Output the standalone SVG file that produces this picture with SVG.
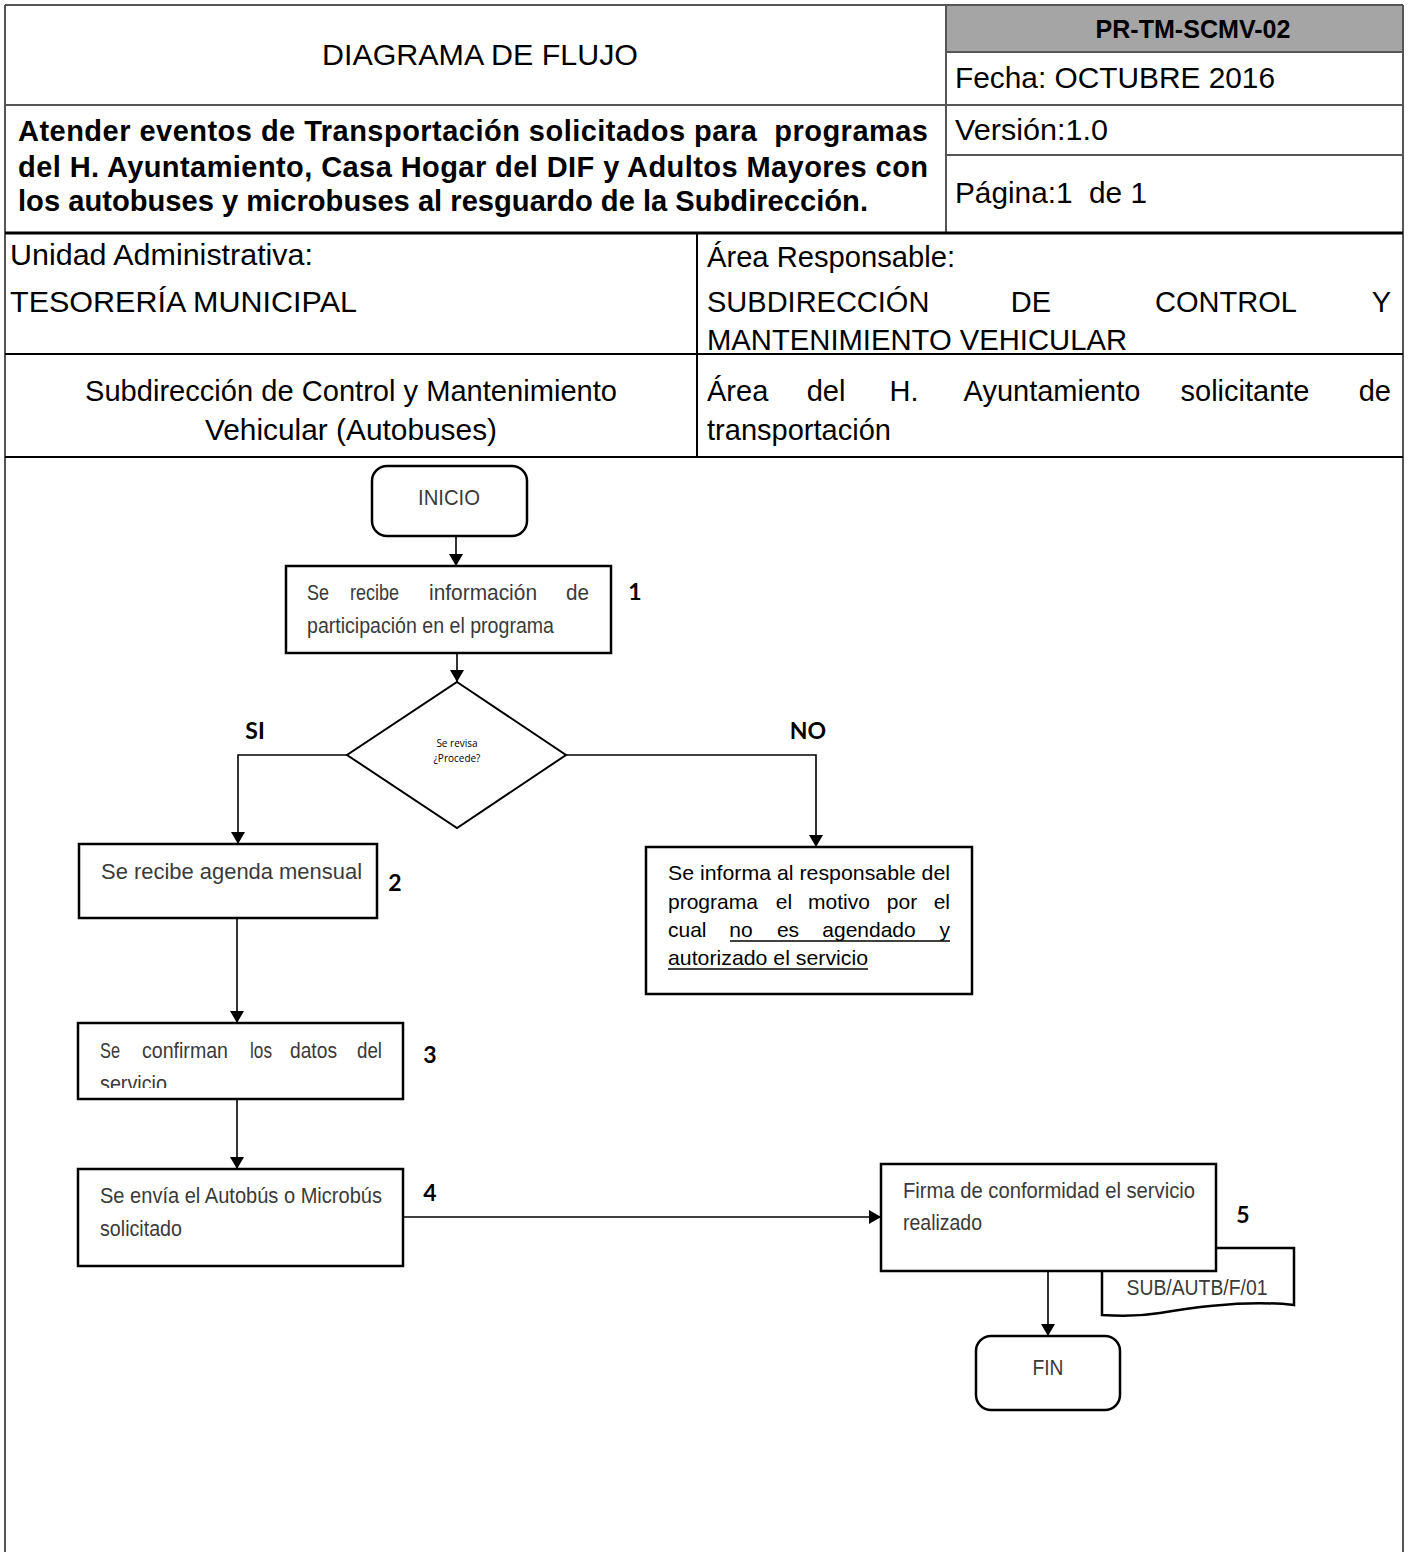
<svg xmlns="http://www.w3.org/2000/svg" width="1408" height="1552" viewBox="0 0 1408 1552">
<style>
.hd{font-family:"Liberation Sans",Arial,sans-serif;font-size:29px;fill:#000}
.hb{font-family:"Liberation Sans",Arial,sans-serif;font-size:29px;font-weight:bold;fill:#000}
.pr{font-family:"Liberation Sans",Arial,sans-serif;font-size:25px;font-weight:bold;fill:#000}
.ft{font-family:"Liberation Sans",Arial,sans-serif;font-size:22px;fill:#3a3a3a}
.nt{font-family:"Liberation Sans",Arial,sans-serif;font-size:21px;fill:#000}
.num{font-family:Lato,"Open Sans",sans-serif;font-size:23px;font-weight:bold;fill:#000}
.sm{font-family:"Open Sans","Liberation Sans",sans-serif;font-size:10px;fill:#000}
.box{fill:#fff;stroke:#000;stroke-width:2.5}
.grid{stroke:#555;stroke-width:2;fill:none}
.thick{stroke:#000;stroke-width:3;fill:none}
.mid{stroke:#000;stroke-width:2;fill:none}
.con{stroke:#000;stroke-width:1.6;fill:none}
</style>
<defs>
<marker id="ah" viewBox="0 0 12 14" refX="12" refY="7" markerWidth="12" markerHeight="14" markerUnits="userSpaceOnUse" orient="auto">
<path d="M0,0 L12,7 L0,14 Z" fill="#000"/>
</marker>
<clipPath id="clip3"><rect x="78" y="1023" width="325" height="65"/></clipPath>
</defs>
<rect width="1408" height="1552" fill="#fff"/>

<g id="header">
<rect x="946" y="5" width="457" height="47" fill="#a5a5a5"/>
<line class="grid" x1="5" y1="5" x2="1403" y2="5"/>
<line class="grid" x1="5" y1="5" x2="5" y2="1552"/>
<line class="grid" x1="1403" y1="5" x2="1403" y2="1552"/>
<line class="grid" x1="946" y1="5" x2="946" y2="233"/>
<line class="grid" x1="946" y1="52" x2="1403" y2="52"/>
<line class="grid" x1="5" y1="105" x2="1403" y2="105"/>
<line class="grid" x1="946" y1="155" x2="1403" y2="155"/>
<line class="thick" x1="5" y1="233" x2="1403" y2="233"/>
<line class="mid" x1="697" y1="233" x2="697" y2="457"/>
<line class="mid" x1="5" y1="354" x2="1403" y2="354"/>
<line class="mid" x1="5" y1="457" x2="1403" y2="457"/>

<text class="hd" x="480" y="65" text-anchor="middle" textLength="316" lengthAdjust="spacingAndGlyphs">DIAGRAMA DE FLUJO</text>
<text class="pr" x="1193" y="38" text-anchor="middle" textLength="195" lengthAdjust="spacingAndGlyphs">PR-TM-SCMV-02</text>
<text class="hd" x="955" y="88" textLength="320" lengthAdjust="spacingAndGlyphs">Fecha: OCTUBRE 2016</text>
<text class="hd" x="955" y="140" textLength="153" lengthAdjust="spacingAndGlyphs">Versión:1.0</text>
<text class="hd" x="955" y="203" textLength="192" lengthAdjust="spacingAndGlyphs" xml:space="preserve">Página:1  de 1</text>

<text class="hb" x="18" y="141" textLength="910" lengthAdjust="spacing" xml:space="preserve">Atender eventos de Transportación solicitados para  programas</text>
<text class="hb" x="18" y="177" textLength="910" lengthAdjust="spacing">del H. Ayuntamiento, Casa Hogar del DIF y Adultos Mayores con</text>
<text class="hb" x="18" y="211" textLength="850" lengthAdjust="spacingAndGlyphs">los autobuses y microbuses al resguardo de la Subdirección.</text>

<text class="hd" x="10" y="265" textLength="303" lengthAdjust="spacingAndGlyphs">Unidad Administrativa:</text>
<text class="hd" x="10" y="312" textLength="347" lengthAdjust="spacingAndGlyphs">TESORERÍA MUNICIPAL</text>
<text class="hd" x="707" y="267" textLength="248" lengthAdjust="spacingAndGlyphs">Área Responsable:</text>
<text class="hd" x="707" y="312">SUBDIRECCIÓN</text>
<text class="hd" x="1031" y="312" text-anchor="middle">DE</text>
<text class="hd" x="1226" y="312" text-anchor="middle">CONTROL</text>
<text class="hd" x="1391" y="312" text-anchor="end">Y</text>
<text class="hd" x="707" y="350" textLength="420" lengthAdjust="spacingAndGlyphs">MANTENIMIENTO VEHICULAR</text>

<text class="hd" x="351" y="401" text-anchor="middle" textLength="532" lengthAdjust="spacingAndGlyphs">Subdirección de Control y Mantenimiento</text>
<text class="hd" x="351" y="440" text-anchor="middle" textLength="292" lengthAdjust="spacingAndGlyphs">Vehicular (Autobuses)</text>
<text class="hd" x="707" y="401">Área</text>
<text class="hd" x="826" y="401" text-anchor="middle">del</text>
<text class="hd" x="904" y="401" text-anchor="middle">H.</text>
<text class="hd" x="1052" y="401" text-anchor="middle">Ayuntamiento</text>
<text class="hd" x="1245" y="401" text-anchor="middle">solicitante</text>
<text class="hd" x="1391" y="401" text-anchor="end">de</text>
<text class="hd" x="707" y="440" textLength="184" lengthAdjust="spacingAndGlyphs">transportación</text>
</g>

<g id="connectors">
<line class="con" x1="456" y1="536" x2="456" y2="566" marker-end="url(#ah)"/>
<line class="con" x1="457" y1="653" x2="457" y2="682" marker-end="url(#ah)"/>
<polyline class="con" points="347,755 238,755 238,844" marker-end="url(#ah)"/>
<polyline class="con" points="566,755 816,755 816,847" marker-end="url(#ah)"/>
<line class="con" x1="237" y1="918" x2="237" y2="1023" marker-end="url(#ah)"/>
<line class="con" x1="237" y1="1099" x2="237" y2="1169" marker-end="url(#ah)"/>
<line class="con" x1="403" y1="1217" x2="881" y2="1217" marker-end="url(#ah)"/>
<line class="con" x1="1048" y1="1271" x2="1048" y2="1336" marker-end="url(#ah)"/>
</g>

<g id="inicio">
<rect class="box" x="372" y="466" width="155" height="70" rx="15"/>
<text class="ft" x="449" y="505" text-anchor="middle" textLength="62" lengthAdjust="spacingAndGlyphs">INICIO</text>
</g>

<g id="step1">
<rect class="box" x="286" y="566" width="325" height="87"/>
<text class="ft" x="307" y="600" textLength="22" lengthAdjust="spacingAndGlyphs">Se</text>
<text class="ft" x="350" y="600" textLength="49" lengthAdjust="spacingAndGlyphs">recibe</text>
<text class="ft" x="429" y="600" textLength="108" lengthAdjust="spacingAndGlyphs">información</text>
<text class="ft" x="566" y="600" textLength="23" lengthAdjust="spacingAndGlyphs">de</text>
<text class="ft" x="307" y="633" textLength="247" lengthAdjust="spacingAndGlyphs">participación en el programa</text>
<text class="num" x="635" y="600" text-anchor="middle">1</text>
</g>

<g id="decision">
<polygon points="457,682 566,755 457,828 347,755" fill="#fff" stroke="#000" stroke-width="2"/>
<text class="sm" x="457" y="747" text-anchor="middle">Se revisa</text>
<text class="sm" x="457" y="762" text-anchor="middle">¿Procede?</text>
<text class="num" x="255" y="739" text-anchor="middle">SI</text>
<text class="num" x="808" y="739" text-anchor="middle">NO</text>
</g>

<g id="step2">
<rect class="box" x="79" y="844" width="298" height="74"/>
<text class="ft" x="101" y="879" textLength="261" lengthAdjust="spacingAndGlyphs">Se recibe agenda mensual</text>
<text class="num" x="395" y="891" text-anchor="middle">2</text>
</g>

<g id="no-box">
<rect class="box" x="646" y="847" width="326" height="147"/>
<text class="nt" x="668" y="880" textLength="282" lengthAdjust="spacingAndGlyphs">Se informa al responsable del</text>
<text class="nt" x="668" y="909">programa</text>
<text class="nt" x="784" y="909" text-anchor="middle">el</text>
<text class="nt" x="839" y="909" text-anchor="middle">motivo</text>
<text class="nt" x="902" y="909" text-anchor="middle">por</text>
<text class="nt" x="950" y="909" text-anchor="end">el</text>
<text class="nt" x="668" y="937">cual</text>
<text class="nt" x="741" y="937" text-anchor="middle">no</text>
<text class="nt" x="788" y="937" text-anchor="middle">es</text>
<text class="nt" x="869" y="937" text-anchor="middle">agendado</text>
<text class="nt" x="950" y="937" text-anchor="end">y</text>
<line x1="730" y1="941" x2="950" y2="941" stroke="#000" stroke-width="1.4"/>
<text class="nt" x="668" y="965" textLength="200" lengthAdjust="spacingAndGlyphs">autorizado el servicio</text>
<line x1="668" y1="969" x2="868" y2="969" stroke="#000" stroke-width="1.4"/>
</g>

<g id="step3">
<rect class="box" x="78" y="1023" width="325" height="76"/>
<text class="ft" x="100" y="1058" textLength="20" lengthAdjust="spacingAndGlyphs">Se</text>
<text class="ft" x="142" y="1058" textLength="86" lengthAdjust="spacingAndGlyphs">confirman</text>
<text class="ft" x="250" y="1058" textLength="22" lengthAdjust="spacingAndGlyphs">los</text>
<text class="ft" x="290" y="1058" textLength="47" lengthAdjust="spacingAndGlyphs">datos</text>
<text class="ft" x="357" y="1058" textLength="25" lengthAdjust="spacingAndGlyphs">del</text>
<text class="ft" x="100" y="1091" textLength="67" lengthAdjust="spacingAndGlyphs" clip-path="url(#clip3)">servicio</text>
<text class="num" x="430" y="1063" text-anchor="middle">3</text>
</g>

<g id="step4">
<rect class="box" x="78" y="1169" width="325" height="97"/>
<text class="ft" x="100" y="1203" textLength="282" lengthAdjust="spacingAndGlyphs">Se envía el Autobús o Microbús</text>
<text class="ft" x="100" y="1236" textLength="82" lengthAdjust="spacingAndGlyphs">solicitado</text>
<text class="num" x="430" y="1201" text-anchor="middle">4</text>
</g>

<g id="document">
<path d="M1102,1248 H1294 V1305 C1250,1300 1200,1306 1160,1313 C1135,1317 1115,1316 1102,1315 Z" fill="#fff" stroke="#000" stroke-width="2.5"/>
<text class="ft" x="1197" y="1295" text-anchor="middle" textLength="141" lengthAdjust="spacingAndGlyphs">SUB/AUTB/F/01</text>
</g>

<g id="step5">
<rect class="box" x="881" y="1164" width="335" height="107"/>
<text class="ft" x="903" y="1198" textLength="292" lengthAdjust="spacingAndGlyphs">Firma de conformidad el servicio</text>
<text class="ft" x="903" y="1230" textLength="79" lengthAdjust="spacingAndGlyphs">realizado</text>
<text class="num" x="1243" y="1223" text-anchor="middle">5</text>
</g>

<g id="fin">
<rect class="box" x="976" y="1336" width="144" height="74" rx="15"/>
<text class="ft" x="1048" y="1375" text-anchor="middle" textLength="31" lengthAdjust="spacingAndGlyphs">FIN</text>
</g>
</svg>
